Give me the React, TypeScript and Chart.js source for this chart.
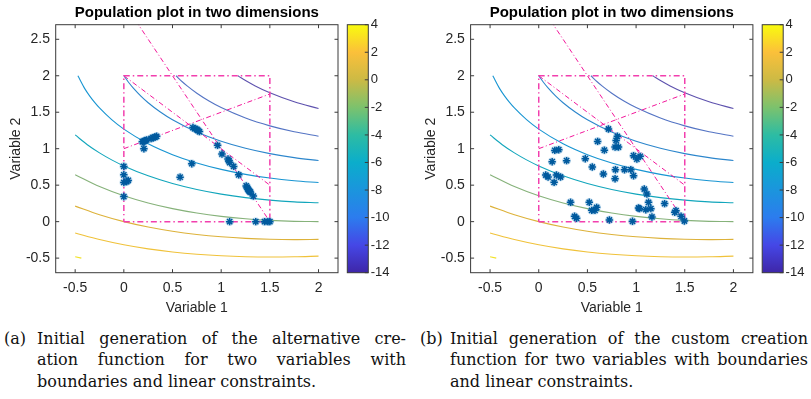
import React, { useEffect, useRef } from "react";
import { Chart, registerables } from "chart.js";
Chart.register(...registerables);

// ---------- data ----------
const TITLE = "Population plot in two dimensions";
const X_LABEL = "Variable 1";
const Y_LABEL = "Variable 2";

const X_RANGE = [-0.7, 2.2];
const Y_RANGE = [-0.7, 2.7];
const CB_RANGE = [-14, 4];
const X_TICKS = [-0.5, 0, 0.5, 1, 1.5, 2];
const Y_TICKS = [-0.5, 0, 0.5, 1, 1.5, 2, 2.5];
const CB_TICKS = [-14, -12, -10, -8, -6, -4, -2, 0, 2, 4];

// colormap stops at the colorbar tick levels (-14 .. 4)
const CB_COLORS = ["#3E26A8", "#4547E6", "#2C7CEE", "#1B95DD", "#0BADCB", "#2DBCA3", "#7CC26D", "#CCBA45", "#FBC03A", "#F9FB0E"];

// contour curves (level, x, y)
const GRID_X = [-0.5, -0.25, 0, 0.25, 0.5, 0.75, 1, 1.25, 1.5, 1.75, 2];
const C4_X = [-0.5, -0.4365];
const C4_Y = [-0.4807, -0.5];
const C2_Y = [-0.1548, -0.245, -0.3166, -0.3728, -0.4157, -0.4473, -0.4686, -0.481, -0.4853, -0.4821, -0.4721];
const C0_Y = [0.2128, 0.0939, 0, -0.0741, -0.132, -0.176, -0.2081, -0.2298, -0.2422, -0.2462, -0.2426];
const CM2_Y = [0.6435, 0.4804, 0.3542, 0.2554, 0.178, 0.1178, 0.0722, 0.039, 0.0167, 0.004, 0];
const CM4_X = [-0.5, -0.375, -0.25, -0.125, 0, 0.25, 0.5, 0.75, 1, 1.25, 1.5, 1.75, 2];
const CM4_Y = [1.1888, 1.0547, 0.9426, 0.8468, 0.7639, 0.6281, 0.5228, 0.4408, 0.3775, 0.3296, 0.295, 0.2716, 0.2583];
const CM6_X = [-0.472, -0.4, -0.35, -0.3, -0.25, -0.125, 0, 0.25, 0.5, 0.75, 1, 1.25, 1.5, 1.75, 2];
const CM6_Y = [2, 1.8202, 1.7208, 1.6345, 1.5581, 1.3977, 1.2679, 1.0672, 0.9182, 0.8042, 0.7161, 0.6485, 0.5976, 0.5607, 0.5359];
const CM8_X = [0, 0.05, 0.1, 0.175, 0.25, 0.375, 0.5, 0.75, 1, 1.25, 1.5, 1.75, 2];
const CM8_Y = [2, 1.9072, 1.8263, 1.721, 1.6302, 1.5024, 1.396, 1.2281, 1.1021, 1.006, 0.9327, 0.8776, 0.8377];
const CM10_X = [0.536, 0.6, 0.65, 0.75, 0.875, 1, 1.25, 1.5, 1.75, 2];
const CM10_Y = [2, 1.918, 1.8606, 1.7597, 1.6533, 1.5635, 1.4206, 1.3133, 1.2322, 1.1716];
const CM12_X = [1.1716, 1.2, 1.25, 1.35, 1.5, 1.75, 2];
const CM12_Y = [2, 1.9752, 1.934, 1.8599, 1.7657, 1.6425, 1.5505];

const CONTOURS = [
  { level: 4, xs: C4_X, ys: C4_Y, color: "#F2E226" },
  { level: 2, xs: GRID_X, ys: C2_Y, color: "#F0C23A" },
  { level: 0, xs: GRID_X, ys: C0_Y, color: "#DDB23A" },
  { level: -2, xs: GRID_X, ys: CM2_Y, color: "#86B27A" },
  { level: -4, xs: CM4_X, ys: CM4_Y, color: "#12A6BC" },
  { level: -6, xs: CM6_X, ys: CM6_Y, color: "#1895D2" },
  { level: -8, xs: CM8_X, ys: CM8_Y, color: "#2C86CC" },
  { level: -10, xs: CM10_X, ys: CM10_Y, color: "#5474C4" },
  { level: -12, xs: CM12_X, ys: CM12_Y, color: "#5E52AE" },
];

// bounds and linear constraints
const BOUND_X = [0, 1.5, 1.5, 0, 0];
const BOUND_Y = [0, 0, 2, 2, 0];
const CON1_X = [0, 1.5];
const CON1_Y = [2, 0.5];
const CON2_X = [0, 1.5];
const CON2_Y = [1, 1.75];
const CON3_X = [0, 1.5];
const CON3_Y = [3, 0];

// population (a): alternative creation function
const POP_A_X = [0, 0, 0, 0.03, 0.045, 0, 0.19, 0.206, 0.22, 0.234, 0.28, 0.3, 0.32, 0.337, 0.206, 0.71, 0.73, 0.75, 0.76, 0.777, 0.963, 1.008, 1.07, 1.08, 1.087, 1.128, 1.18, 1.257, 1.267, 1.274, 1.284, 1.291, 1.3, 1.33, 0.698, 0.578, 1.087, 1.355, 1.445, 1.48, 1.5];
const POP_A_Y = [0.757, 0.642, 0.537, 0.55, 0.565, 0.344, 1.095, 1.1, 1.11, 1.12, 1.14, 1.15, 1.16, 1.17, 1.0, 1.29, 1.275, 1.265, 1.25, 1.235, 1.046, 0.927, 0.858, 0.835, 0.81, 0.757, 0.642, 0.49, 0.47, 0.447, 0.43, 0.416, 0.405, 0.35, 0.794, 0.61, 0, 0, 0, 0, 0];

// population (b): custom creation function
const POP_B_X = [0.716, 0.605, 0.808, 0.795, 0.784, 0.819, 0.674, 0.165, 0.206, 0.138, 0.286, 0.478, 0.974, 1.042, 1.008, 0.55, 0.072, 0.096, 0.182, 0.224, 0.158, 0.788, 0.881, 0.946, 0.664, 0.784, 0.974, 1.084, 1.111, 0.327, 0.519, 0.595, 0.544, 0.578, 1.025, 1.035, 1.128, 1.1, 1.152, 1.163, 1.293, 1.41, 1.397, 1.462, 1.496, 0.368, 0.389, 0.726, 0.963];
const POP_B_Y = [1.27, 1.1, 1.17, 1.114, 1.023, 1.023, 0.98, 0.977, 0.986, 0.822, 0.836, 0.863, 0.904, 0.895, 0.858, 0.749, 0.639, 0.612, 0.639, 0.612, 0.539, 0.712, 0.712, 0.712, 0.653, 0.589, 0.63, 0.447, 0.379, 0.265, 0.265, 0.196, 0.155, 0.155, 0.187, 0.178, 0.265, 0.164, 0.178, 0.064, 0.247, 0.151, 0.128, 0.073, 0.009, 0.073, 0.046, 0.023, 0.005];

const CAPTION_A_LABEL = "(a)";
const CAPTION_A = ["Initial generation of the alternative cre-", "ation function for two variables with", "boundaries and linear constraints."];
const CAPTION_B_LABEL = "(b)";
const CAPTION_B = ["Initial generation of the custom creation", "function for two variables with boundaries", "and linear constraints."];

// ---------- styling ----------
const SANS = '"Liberation Sans", Arial, Helvetica, sans-serif';
const SERIF = '"DejaVu Serif", "Liberation Serif", serif';
const AXIS_COLOR = "#3a3a3a";
const TEXT_COLOR = "#262626";
const TICK_LEN = 3.5;

const pts = (xs: number[], ys: number[]) => xs.map((x, i) => ({ x, y: ys[i] }));

const axesBox = {
  id: "axesBox",
  afterDatasetsDraw(chart: any) {
    const { ctx, chartArea: a, scales } = chart;
    const sx = scales.x, sy = scales.y;
    ctx.save();
    ctx.strokeStyle = AXIS_COLOR;
    ctx.lineWidth = 1;
    ctx.strokeRect(a.left, a.top, a.right - a.left, a.bottom - a.top);
    ctx.beginPath();
    for (const v of X_TICKS) {
      const px = sx.getPixelForValue(v);
      ctx.moveTo(px, a.bottom); ctx.lineTo(px, a.bottom - TICK_LEN);
      ctx.moveTo(px, a.top); ctx.lineTo(px, a.top + TICK_LEN);
    }
    for (const v of Y_TICKS) {
      const py = sy.getPixelForValue(v);
      ctx.moveTo(a.left, py); ctx.lineTo(a.left + TICK_LEN, py);
      ctx.moveTo(a.right, py); ctx.lineTo(a.right - TICK_LEN, py);
    }
    ctx.stroke();
    ctx.restore();
  },
};

const cbBox = {
  id: "cbBox",
  afterDatasetsDraw(chart: any) {
    const { ctx, chartArea: a, scales } = chart;
    ctx.save();
    ctx.strokeStyle = AXIS_COLOR;
    ctx.lineWidth = 1;
    ctx.strokeRect(a.left, a.top, a.right - a.left, a.bottom - a.top);
    ctx.beginPath();
    for (const v of CB_TICKS) {
      const py = scales.y.getPixelForValue(v);
      ctx.moveTo(a.right, py); ctx.lineTo(a.right - TICK_LEN, py);
    }
    ctx.stroke();
    ctx.restore();
  },
};

type PanelCfg = {
  left: number; yAxisW: number; padR: number; cbLeft: number; cbPadL: number; cbAxisW: number;
  popX: number[]; popY: number[]; label: string; caption: string[]; capLabelX: number; capX: number; capW: number;
};

const MAIN_W = 345, MAIN_H = 320, CB_W = 56;
const CHART_TOP = 24.7, CHART_BOTTOM = 272.7, X_AXIS_H = 45;

function Panel({ cfg }: { cfg: PanelCfg }) {
  const mainRef = useRef<HTMLCanvasElement>(null);
  const cbRef = useRef<HTMLCanvasElement>(null);

  useEffect(() => {
    const lineSet = (xs: number[], ys: number[], color: string, width: number, dash: number[] = []) => ({
      data: pts(xs, ys), showLine: true, pointRadius: 0, borderColor: color, borderWidth: width,
      borderDash: dash, fill: false, cubicInterpolationMode: "monotone",
    });
    const popData = pts(cfg.popX, cfg.popY);
    const datasets: any[] = [
      { data: popData, showLine: false, pointStyle: "star", pointRadius: 3.7, pointBorderColor: "#005A9E", pointBorderWidth: 1.5, pointBackgroundColor: "transparent" },
      { data: popData, showLine: false, pointStyle: "circle", pointRadius: 4.4, pointBackgroundColor: "rgba(70,150,210,0.28)", pointBorderWidth: 0 },
      lineSet(BOUND_X, BOUND_Y, "#F23FAE", 1.5, [6, 3, 1.5, 3]),
      lineSet(CON1_X, CON1_Y, "#F2169A", 1, [5, 2.5, 1, 2.5]),
      lineSet(CON2_X, CON2_Y, "#F2169A", 1, [5, 2.5, 1, 2.5]),
      lineSet(CON3_X, CON3_Y, "#F2169A", 1, [5, 2.5, 1, 2.5]),
      ...CONTOURS.map((c) => lineSet(c.xs, c.ys, c.color, 1.1)),
    ];
    const tickFont = { family: SANS, size: 14, lineHeight: 1.2 };
    const main = new Chart(mainRef.current as HTMLCanvasElement, {
      type: "scatter",
      data: { datasets },
      options: {
        animation: false, responsive: false, devicePixelRatio: 1, events: [],
        layout: { padding: { left: 0, top: 0, right: cfg.padR, bottom: MAIN_H - CHART_BOTTOM - X_AXIS_H } },
        plugins: {
          legend: { display: false }, tooltip: { enabled: false },
          title: { display: true, text: TITLE, fullSize: false, color: "#000", font: { family: SANS, size: 15, weight: "bold", lineHeight: 1.2 }, padding: { top: 3.65, bottom: 3.05 } },
        },
        scales: {
          x: {
            type: "linear", min: X_RANGE[0], max: X_RANGE[1],
            afterBuildTicks: (s: any) => { s.ticks = X_TICKS.map((v) => ({ value: v })); },
            afterFit: (s: any) => { s.height = X_AXIS_H; },
            grid: { display: false, drawTicks: false }, border: { display: false },
            ticks: { padding: 6.7, color: TEXT_COLOR, font: tickFont, maxRotation: 0, autoSkip: false, callback: (v: any) => String(v) },
            title: { display: true, text: X_LABEL, color: TEXT_COLOR, font: tickFont, padding: { top: 0, bottom: 1.3 } },
          },
          y: {
            type: "linear", min: Y_RANGE[0], max: Y_RANGE[1],
            afterBuildTicks: (s: any) => { s.ticks = Y_TICKS.map((v) => ({ value: v })); },
            afterFit: (s: any) => { s.width = cfg.yAxisW; },
            grid: { display: false, drawTicks: false }, border: { display: false },
            ticks: { padding: 5.7, color: TEXT_COLOR, font: tickFont, autoSkip: false, callback: (v: any) => String(v) },
            title: { display: true, text: Y_LABEL, color: TEXT_COLOR, font: tickFont, padding: { top: 7.5, bottom: 0 } },
          },
        },
      } as any,
      plugins: [axesBox],
    });

    const cb = new Chart(cbRef.current as HTMLCanvasElement, {
      type: "bar",
      data: {
        labels: [""],
        datasets: [{
          data: [[CB_RANGE[0], CB_RANGE[1]]] as any,
          borderWidth: 0, barPercentage: 1, categoryPercentage: 1,
          backgroundColor: (c: any) => {
            const ch = c.chart; const a = ch.chartArea;
            if (!a) return CB_COLORS[0];
            const g = ch.ctx.createLinearGradient(0, a.bottom, 0, a.top);
            CB_COLORS.forEach((col, i) => g.addColorStop(i / (CB_COLORS.length - 1), col));
            return g;
          },
        }],
      },
      options: {
        animation: false, responsive: false, devicePixelRatio: 1, events: [],
        layout: { padding: { left: cfg.cbPadL, top: CHART_TOP, right: 0, bottom: MAIN_H - CHART_BOTTOM } },
        plugins: { legend: { display: false }, tooltip: { enabled: false } },
        scales: {
          x: { display: false },
          y: {
            position: "right", min: CB_RANGE[0], max: CB_RANGE[1],
            afterBuildTicks: (s: any) => { s.ticks = CB_TICKS.map((v) => ({ value: v })); },
            afterFit: (s: any) => { s.width = cfg.cbAxisW; },
            grid: { display: false, drawTicks: false }, border: { display: false },
            ticks: { padding: 2.4, color: TEXT_COLOR, font: { family: SANS, size: 13, lineHeight: 1.2 }, autoSkip: false, callback: (v: any) => String(v) },
          },
        },
      } as any,
      plugins: [cbBox],
    });

    return () => { main.destroy(); cb.destroy(); };
  }, []);

  const capFont: React.CSSProperties = { fontFamily: SERIF, fontSize: 16, lineHeight: "21.5px", color: "#111" };
  return (
    <>
      <canvas ref={mainRef} width={MAIN_W} height={MAIN_H} style={{ position: "absolute", left: cfg.left, top: 0, width: MAIN_W, height: MAIN_H }} />
      <canvas ref={cbRef} width={CB_W} height={MAIN_H} style={{ position: "absolute", left: cfg.cbLeft, top: 0, width: CB_W, height: MAIN_H }} />
      <div style={{ ...capFont, position: "absolute", left: cfg.capLabelX, top: 327.7 }}>{cfg.label}</div>
      <div style={{ ...capFont, position: "absolute", left: cfg.capX, top: 327.7, width: cfg.capW }}>
        {cfg.caption.map((line, i) => (
          <div key={i} style={{ whiteSpace: "nowrap", textAlign: i < cfg.caption.length - 1 ? "justify" : "left", textAlignLast: i < cfg.caption.length - 1 ? "justify" : "left" } as any}>{line}</div>
        ))}
      </div>
    </>
  );
}

const PANEL_A: PanelCfg = {
  left: 0, yAxisW: 55.7, padR: 7, cbLeft: 340, cbPadL: 7.3, cbAxisW: 27.7,
  popX: POP_A_X, popY: POP_A_Y, label: CAPTION_A_LABEL, caption: CAPTION_A, capLabelX: 4, capX: 37, capW: 369,
};
const PANEL_B: PanelCfg = {
  left: 415, yAxisW: 55.6, padR: 7.1, cbLeft: 755, cbPadL: 7.2, cbAxisW: 27.8,
  popX: POP_B_X, popY: POP_B_Y, label: CAPTION_B_LABEL, caption: CAPTION_B, capLabelX: 420, capX: 450, capW: 358,
};

export default function App() {
  return (
    <div style={{ position: "fixed", left: 0, top: 0, width: 811, height: 399, background: "#fff", overflow: "hidden" }}>
      <Panel cfg={PANEL_A} />
      <Panel cfg={PANEL_B} />
    </div>
  );
}
